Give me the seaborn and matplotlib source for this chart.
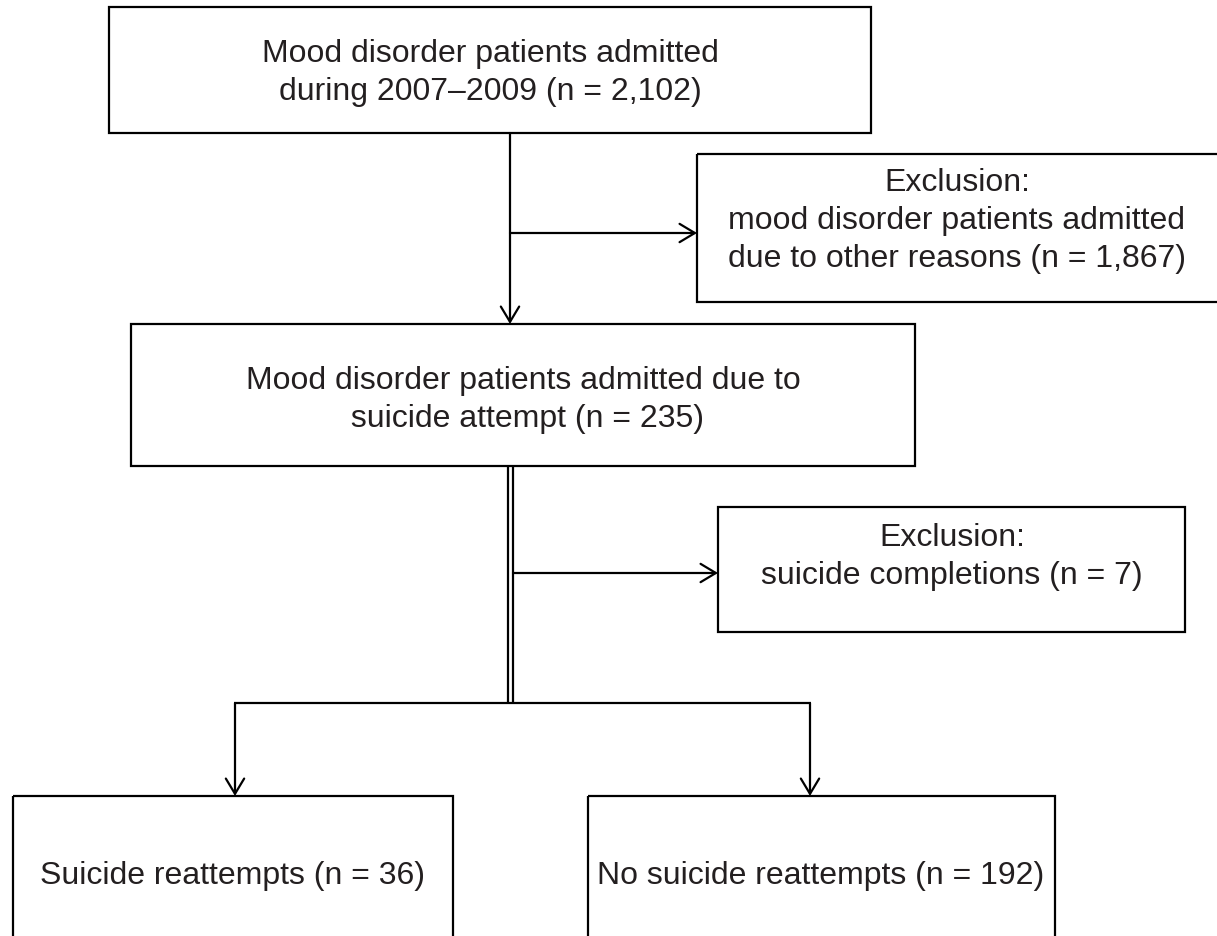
import matplotlib.pyplot as plt
import seaborn as sns
from matplotlib.patches import Rectangle, FancyArrowPatch

# flowchart content
labels = [
    "Mood disorder patients admitted\nduring 2007\u20132009 (n = 2,102)",
    "Exclusion:\nmood disorder patients admitted\ndue to other reasons (n = 1,867)",
    "Mood disorder patients admitted due to\n suicide attempt (n = 235)",
    "Exclusion:\nsuicide completions (n = 7)",
    "Suicide reattempts (n = 36)",
    "No suicide reattempts (n = 192)",
]
counts = [2102, 1867, 235, 7, 36, 192]

# box geometry in pixels: x0, y0, x1, y1
boxes = [
    (109, 8, 871, 134),
    (697, 155, 1222, 303),
    (131, 325, 915, 467),
    (718, 508, 1185, 633),
    (13, 797, 453, 945),
    (588, 797, 1055, 945),
]
text_pos = [(490, 73), (957, 221), (523, 400), (952, 557), (233, 876), (821, 876)]

sns.set_style("white")
plt.rcParams['font.family'] = ['Liberation Sans', 'DejaVu Sans']

fig = plt.figure(figsize=(12.17, 9.37), dpi=100)
ax = fig.add_axes([0, 0, 1, 1])
ax.set_xlim(0, 1217)
ax.set_ylim(937, 0)
ax.axis('off')

lw = 1.6
for (x0, y0, x1, y1), lab, (tx, ty) in zip(boxes, labels, text_pos):
    ax.add_patch(Rectangle((x0, y0), x1 - x0, y1 - y0, fill=False,
                           ec='black', lw=lw, clip_on=False))
    ax.text(tx, ty, lab, ha='center', va='center', fontsize=23,
            color='#231f20', linespacing=1.35)


def arrow(p0, p1):
    a = FancyArrowPatch(p0, p1, arrowstyle='->,head_length=0.55,head_width=0.33',
                        mutation_scale=20, lw=lw, color='black',
                        shrinkA=0, shrinkB=0)
    ax.add_patch(a)


def line(xs, ys):
    ax.plot(xs, ys, color='black', lw=lw, solid_capstyle='butt')


arrow((510, 134), (510, 325))
arrow((510, 234), (697, 234))
line([508, 508], [467, 705])
line([513, 513], [467, 705])
arrow((513, 574), (718, 574))
line([234, 811], [704, 704])
arrow((235, 704), (235, 797))
arrow((810, 704), (810, 797))

fig.savefig('out.png', dpi=100)
